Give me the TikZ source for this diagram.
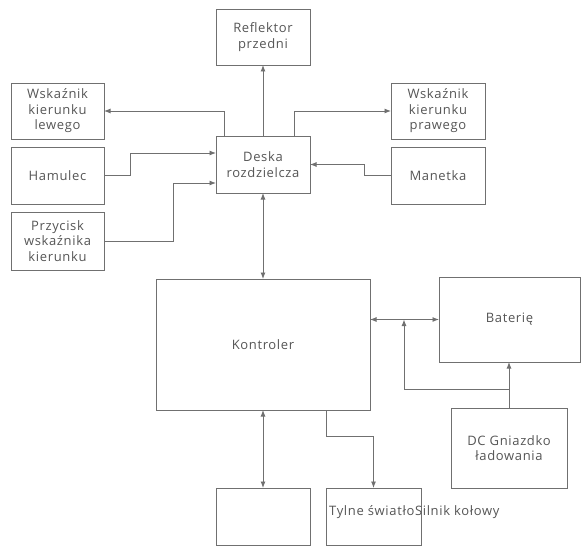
\documentclass[tikz,border=0pt]{standalone}
\usepackage{fontspec}
\setmainfont{Open Sans}[LetterSpace=5]
\usepackage{tikz}
\usetikzlibrary{arrows.meta}
\usepackage{xcolor}
\definecolor{linegray}{RGB}{112, 112, 112}
\definecolor{textgray}{RGB}{85, 85, 85}

\begin{document}
\begin{tikzpicture}[x=1pt, y=-1pt, >={Latex[length=6.5pt, width=5pt]},
    box/.style={draw=linegray, line width=0.9pt, inner sep=0pt, outer sep=0pt, align=center,
      text=textgray, font=\fontsize{13}{15.5}\selectfont},
    wire/.style={draw=linegray, line width=0.9pt}]
    \useasboundingbox (0,0) rectangle (581,551);
    % top row
    \node[box, minimum width=94, minimum height=56] (refl) at (263, 37) {Reflektor\\przedni};
    \node[box, minimum width=93, minimum height=56] (wl) at (57.5, 111) {Wskaźnik\\kierunku\\lewego};
    \node[box, minimum width=94, minimum height=56] (wp) at (438, 111) {Wskaźnik\\kierunku\\prawego};
    \node[box, minimum width=94, minimum height=57] (desk) at (263, 164.5) {Deska\\rozdzielcza};
    \node[box, minimum width=93, minimum height=57] (ham) at (57.5, 175.5) {Hamulec};
    \node[box, minimum width=94, minimum height=57] (man) at (438, 175.5) {Manetka};
    \node[box, minimum width=93, minimum height=58] (prz) at (57.5, 241) {Przycisk\\wskaźnika\\kierunku};
    % middle
    \node[box, minimum width=214, minimum height=131] (ktr) at (263, 344.5) {Kontroler};
    \node[box, minimum width=141, minimum height=85] (bat) at (509.5, 319.5) {Baterię};
    \node[box, minimum width=116, minimum height=80] (dc) at (509, 448) {DC Gniazdko\\ładowania};
    % bottom row
    \node[box, minimum width=94, minimum height=57] (b1) at (263, 516.5) {};
    \node[box, minimum width=95, minimum height=57] (tyl) at (373.5, 516.5) {};
    \node[anchor=west, inner sep=0pt, text=textgray, font=\fontsize{13}{15.5}\selectfont] (tyltxt) at (329, 512) {Tylne światłoSilnik kołowy};
    \coordinate (chg) at (404, 319.5);

    \draw[wire, ->] (desk.north) -- (refl.south);
    \draw[wire, ->] ([xshift=8pt]desk.north west) |- (wl.east);
    \draw[wire, ->] ([xshift=-16pt]desk.north east) |- (wp.west);
    \draw[wire, ->] (ham.east) -- ++(26,0) |- ([yshift=11.5pt]desk.west);
    \draw[wire, ->] (prz.east) -- ++(69,0) |- ([yshift=-18.5pt]desk.west);
    \draw[wire, ->] (man.west) -- ++(-27,0) |- (desk.east);
    \draw[wire, <->] (desk.south) -- (ktr.north);
    \draw[wire, <->] (ktr.east |- bat.west) -- (bat.west);
    \draw[wire, ->] (dc.north) -- (dc.north |- bat.south);
    \draw[wire, ->] ([yshift=19pt]dc.north) -| (chg);
    \draw[wire, <->] (ktr.south -| b1.north) -- (b1.north);
    \draw[wire, ->] ([xshift=-44pt]ktr.south east) -- ++(0,26) -| (tyl.north);
  \end{tikzpicture}
\end{document}
